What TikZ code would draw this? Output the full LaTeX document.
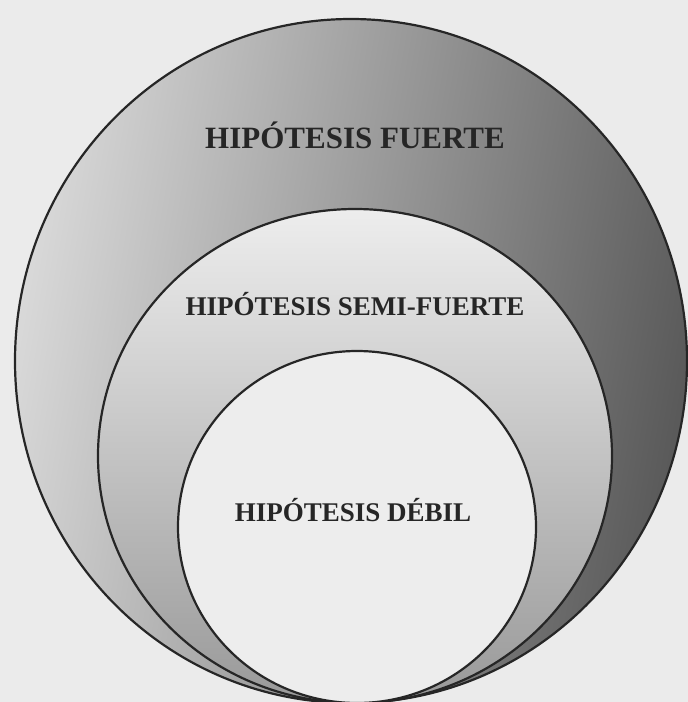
\documentclass[tikz,border=0pt]{standalone}
\usepackage{fontspec}
\setmainfont{Liberation Serif}
\begin{document}
\begin{tikzpicture}[x=1pt,y=-1pt,
  ring/.style={draw=black!85,line width=2.2pt},
  lbl/.style={font=\bfseries, text=black!85, inner sep=0pt, anchor=base}]
\useasboundingbox (0,0) rectangle (688,702);
\fill[black!8] (0,0) rectangle (688,702);
\begin{scope}
\clip (0,0) rectangle (688,702);
% outer
\shadedraw[ring, left color=black!15, right color=black!65, shading angle=80]
  (351,361) ellipse [x radius=336, y radius=342];
% middle
\shadedraw[ring, top color=black!7, bottom color=black!40]
  (355,456) ellipse [x radius=257, y radius=247];
% inner
\filldraw[ring, fill=black!7]
  (357,527) ellipse [x radius=179, y radius=176];
\end{scope}
\node[lbl, font=\bfseries\fontsize{31}{31}\selectfont] (strong) at (355,148) {HIPÓTESIS FUERTE};
\node[lbl, font=\bfseries\fontsize{27}{27}\selectfont] (semi) at (355,315) {HIPÓTESIS SEMI-FUERTE};
\node[lbl, font=\bfseries\fontsize{27}{27}\selectfont] (weak) at (353,521) {HIPÓTESIS DÉBIL};
\end{tikzpicture}
\end{document}
